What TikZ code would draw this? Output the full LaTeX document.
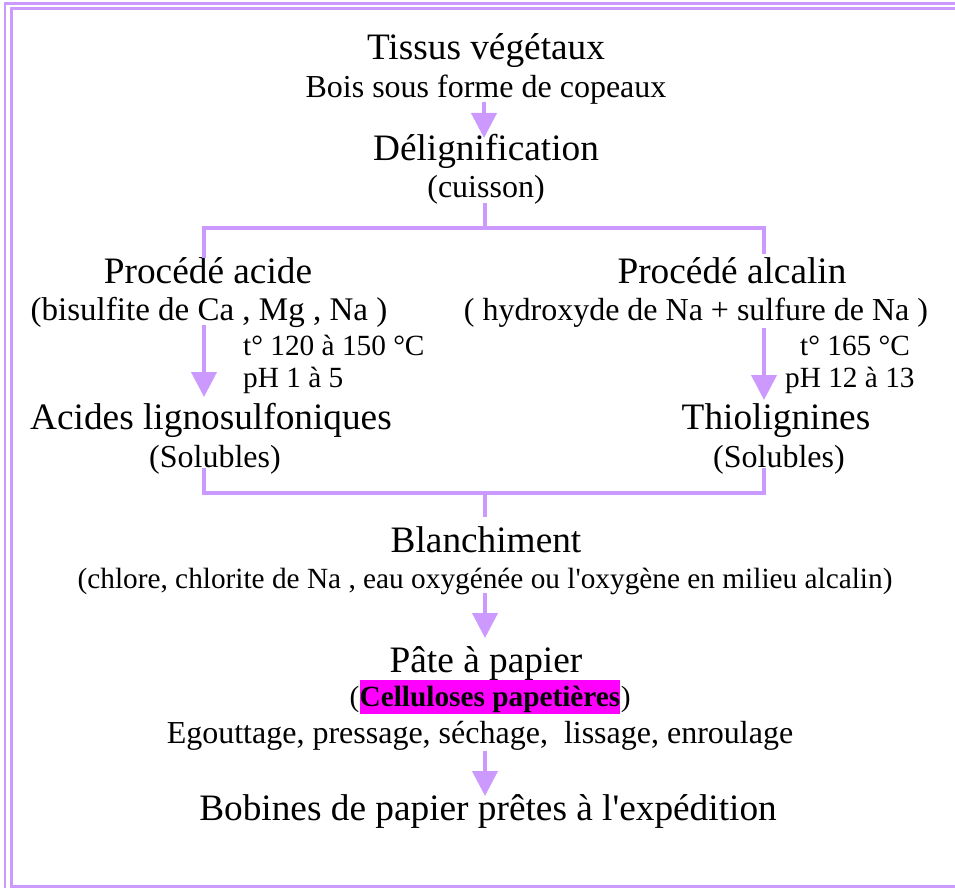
\documentclass[tikz,border=0pt]{standalone}
\usepackage{fontspec}
\setmainfont{Liberation Serif}
\usetikzlibrary{arrows.meta}
\definecolor{lilac}{RGB}{204,153,255}
\definecolor{hilite}{RGB}{255,0,255}
\begin{document}
\begin{tikzpicture}[x=1pt,y=-1pt,
  title/.style={font=\fontsize{37.3}{44}\selectfont, anchor=base, inner sep=0pt},
  sub/.style={font=\fontsize{32}{38}\selectfont, anchor=base, inner sep=0pt},
  small/.style={font=\fontsize{29.3}{35}\selectfont, anchor=base, inner sep=0pt},
  cond/.style={font=\fontsize{29.3}{35}\selectfont, anchor=base west, inner sep=0pt},
  flow/.style={draw=lilac, line width=4pt, line join=miter},
  flowarrow/.style={flow, -{Triangle[length=25pt,width=25pt]}},
  frameline/.style={draw=lilac, line width=3pt}]
\useasboundingbox (0,0) rectangle (955,888);
\clip (0,0) rectangle (955,888);

% double frame
\draw[frameline, line width=2.5pt] (5,3.5) rectangle (975,905);
\draw[frameline] (11.5,8.5) rectangle (965,886.5);

% top of the chain
\node[title] (tissus) at (486,60) {Tissus végétaux};
\node[sub]   (bois)   at (486,98) {Bois sous forme de copeaux};
\node[title] (delig)  at (486,160) {Délignification};
\node[sub]   (cuisson) at (486,197) {(cuisson)};

% acid process
\node[title] (acide)  at (208,283) {Procédé acide};
\node[sub, font=\fontsize{33}{38}\selectfont] (bisulf) at (209,320) {(bisulfite de Ca , Mg , Na )};
\node[cond]  (tacide) at (243,355) {t° 120 à 150 °C};
\node[cond]  (phacide) at (243,387) {pH 1 à 5};
\node[title] (lignosulf) at (211,429) {Acides lignosulfoniques};
\node[sub]   (solg)   at (215,467) {(Solubles)};

% alkaline process
\node[title] (alcalin) at (732,283) {Procédé alcalin};
\node[sub]   (hydrox)  at (696,320) {( hydroxyde de Na + sulfure de Na )};
\node[cond]  (talc)    at (800,355) {t° 165 °C};
\node[cond]  (phalc)   at (785,387) {pH 12 à 13};
\node[title] (thio)    at (776,429) {Thiolignines};
\node[sub]   (sold)    at (779,467) {(Solubles)};

% bleaching and paper
\node[title] (blanch) at (486,552) {Blanchiment};
\node[small] (chlore) at (485,588) {(chlore, chlorite de Na , eau oxygénée ou l\textquotesingle oxygène en milieu alcalin)};
\node[title] (pate)   at (486,672) {Pâte à papier};
\node[font=\fontsize{29.3}{35}\selectfont\bfseries, anchor=base, inner xsep=0pt, inner ysep=0pt,
      text height=26pt, text depth=7.5pt, fill=hilite] (cellu) at (490,706) {Celluloses papetières};
\node[font=\fontsize{29.3}{35}\selectfont, anchor=base east, inner sep=0pt] (popen) at (cellu.base west) {(};
\node[font=\fontsize{29.3}{35}\selectfont, anchor=base west, inner sep=0pt] (pclose) at (cellu.base east) {)};
\node[sub]   (egout)  at (480,743) {Egouttage, pressage, séchage,~ lissage, enroulage};
\node[title] (bobines) at (488,820) {Bobines de papier prêtes à l\textquotesingle expédition};

% connector end points
\coordinate (a1s) at (484,102);
\coordinate (a1e) at (484,138);
\coordinate (cs)  at (485,203);
\coordinate (split) at (485,228);
\coordinate (la)  at (204,228);
\coordinate (ra)  at (764,228);
\coordinate (lt)  at (204,258);
\coordinate (rt)  at (764,254);
\coordinate (las) at (204,325);
\coordinate (lae) at (204,397);
\coordinate (ras) at (764,328);
\coordinate (rae) at (764,400);
\coordinate (lb)  at (204,468);
\coordinate (rb)  at (764,468);
\coordinate (lm)  at (204,493);
\coordinate (rm)  at (764,493);
\coordinate (merge) at (485,493);
\coordinate (mb)  at (485,517);
\coordinate (a2s) at (485,593);
\coordinate (a2e) at (485,638);
\coordinate (a3s) at (485,751);
\coordinate (a3e) at (485,796);

% connectors
\draw[flowarrow] (a1s) -- (a1e);
\draw[flow] (cs) -- (split);
\draw[flow] (lt) -- (la) -- (ra) -- (rt);
\draw[flowarrow] (las) -- (lae);
\draw[flowarrow] (ras) -- (rae);
\draw[flow] (lb) -- (lm) -- (rm) -- (rb);
\draw[flow] (merge) -- (mb);
\draw[flowarrow] (a2s) -- (a2e);
\draw[flowarrow] (a3s) -- (a3e);
\end{tikzpicture}
\end{document}
